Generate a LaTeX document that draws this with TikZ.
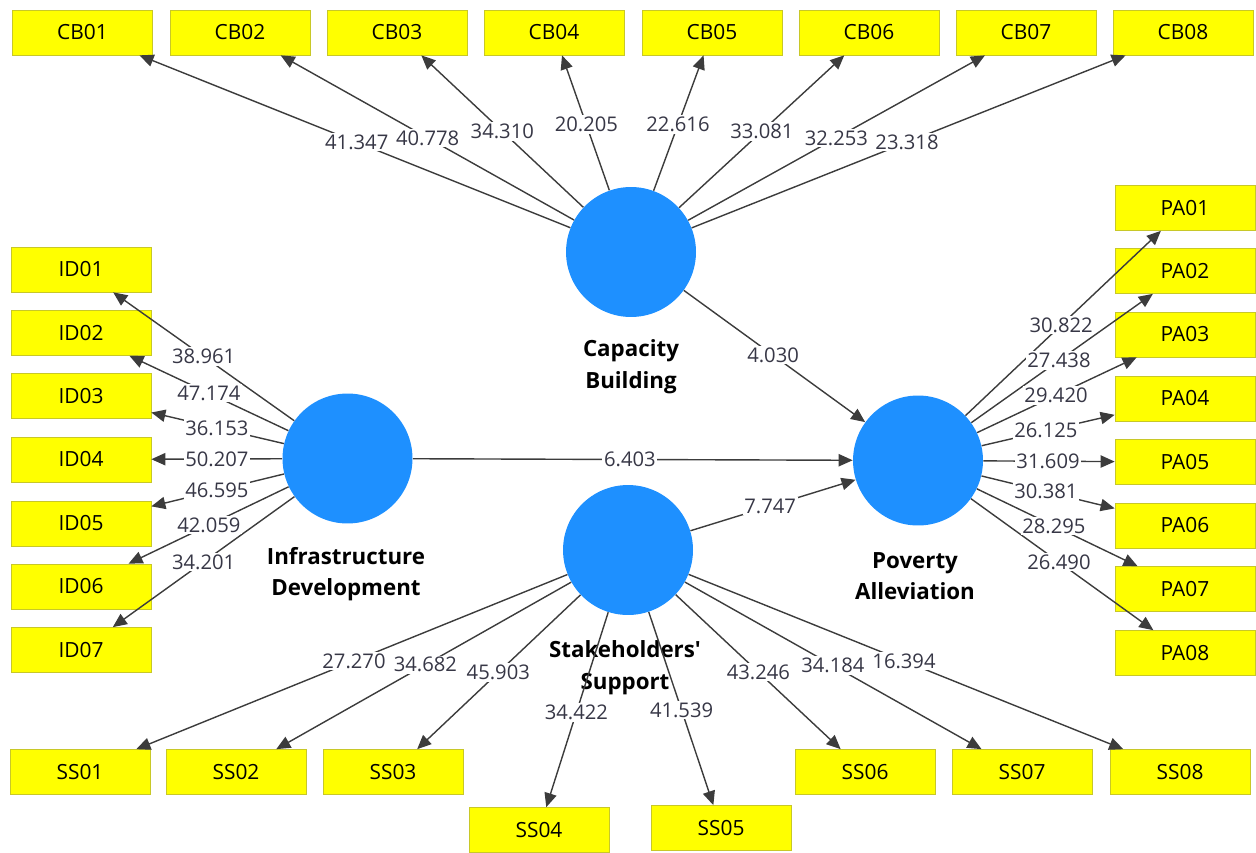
\documentclass[tikz,border=0pt]{standalone}
\usepackage{fontspec}
\setmainfont{Open Sans}
\usetikzlibrary{arrows.meta,calc}
\definecolor{boxyellow}{RGB}{255,255,0}
\definecolor{boxborder}{RGB}{200,200,40}
\definecolor{lvblue}{RGB}{30,144,255}
\definecolor{linegray}{RGB}{60,60,60}
\definecolor{numcol}{RGB}{55,55,70}
\begin{document}
\begin{tikzpicture}[x=0.02cm,y=-0.02cm,
  ind/.style={draw=boxborder, fill=boxyellow, minimum width=2.8cm, minimum height=0.9cm, inner sep=0pt, font=\fontsize{11.9}{14}\selectfont},
  lv/.style={circle, fill=lvblue, minimum size=2.6cm, inner sep=0pt},
  lvname/.style={font=\bfseries\fontsize{12.7}{18}\selectfont, align=center},
  arr/.style={draw=linegray, line width=0.8pt, -{Triangle[length=8pt,width=7pt]}},
  lab/.style={fill=white, inner sep=1pt, text=numcol, font=\fontsize{11.5}{13}\selectfont}]
\useasboundingbox (0,0) rectangle (1256,852);

% latent variables
\node[lv] (cb) at (631,252) {};
\node[lv] (id) at (347.5,458.5) {};
\node[lv] (pa) at (918,460.5) {};
\node[lv] (ss) at (628,550) {};

\node[lvname] (cbname) at (631,367) {Capacity\\Building};
\node[lvname] (idname) at (346,574) {Infrastructure\\Development};
\node[lvname] (paname) at (915,576) {Poverty\\Alleviation};
\node[lvname] (ssname) at (625,668) {Stakeholders\textquotesingle\\Support};

% indicators
\foreach \i/\x in {1/82.5,2/240,3/397,4/554,5/712,6/869,7/1026,8/1183}
  \node[ind] (cb0\i) at (\x,32.5) {CB0\i};
\foreach \i/\y in {1/269.5,2/333,3/396,4/459.5,5/523.5,6/586.5,7/650}
  \node[ind] (id0\i) at (81,\y) {ID0\i};
\foreach \i/\y in {1/208,2/271,3/334.5,4/398.5,5/462,6/525.5,7/589,8/653}
  \node[ind] (pa0\i) at (1185,\y) {PA0\i};
\foreach \i/\x/\y in {1/80/772,2/236/772,3/393/772,4/539/830,5/721/828,6/865/772,7/1022/772,8/1180/772}
  \node[ind] (ss0\i) at (\x,\y) {SS0\i};

% connectors
\foreach \i in {1,...,8} \draw[arr] (cb) -- (cb0\i);
\foreach \i in {1,...,7} \draw[arr] (id) -- (id0\i);
\foreach \i in {1,...,8} \draw[arr] (pa) -- (pa0\i);
\foreach \i in {1,...,8} \draw[arr] (ss) -- (ss0\i);
\draw[arr] (cb) -- (pa);
\draw[arr] (id) -- (pa);
\draw[arr] (ss) -- (pa);

% labels
\foreach \i/\t/\v in {1/0.50/41.347,2/0.52/40.778,3/0.55/34.310,4/0.58/20.205,5/0.58/22.616,6/0.55/33.081,7/0.52/32.253,8/0.50/23.318}
  \node[lab] at ($(cb)!\t!(cb0\i)$) {\v};
\foreach \i/\t/\v in {1/0.54/38.961,2/0.52/47.174,3/0.49/36.153,4/0.49/50.207,5/0.49/46.595,6/0.52/42.059,7/0.54/34.201}
  \node[lab] at ($(id)!\t!(id0\i)$) {\v};
\foreach \i/\t/\v in {1/0.536/30.822,2/0.528/27.438,3/0.517/29.420,4/0.479/26.125,5/0.487/31.609,6/0.479/30.381,7/0.509/28.295,8/0.528/26.490}
  \node[lab] at ($(pa)!\t!(pa0\i)$) {\v};
\foreach \i/\t/\v in {1/0.50/27.270,2/0.517/34.682,3/0.552/45.903,4/0.58/34.422,5/0.576/41.539,6/0.55/43.246,7/0.52/34.184,8/0.50/16.394}
  \node[lab] at ($(ss)!\t!(ss0\i)$) {\v};
\node[lab] at ($(cb)!0.495!(pa)$) {4.030};
\node[lab] at ($(id)!0.495!(pa)$) {6.403};
\node[lab] at ($(ss)!0.49!(pa)$) {7.747};
\end{tikzpicture}
\end{document}
